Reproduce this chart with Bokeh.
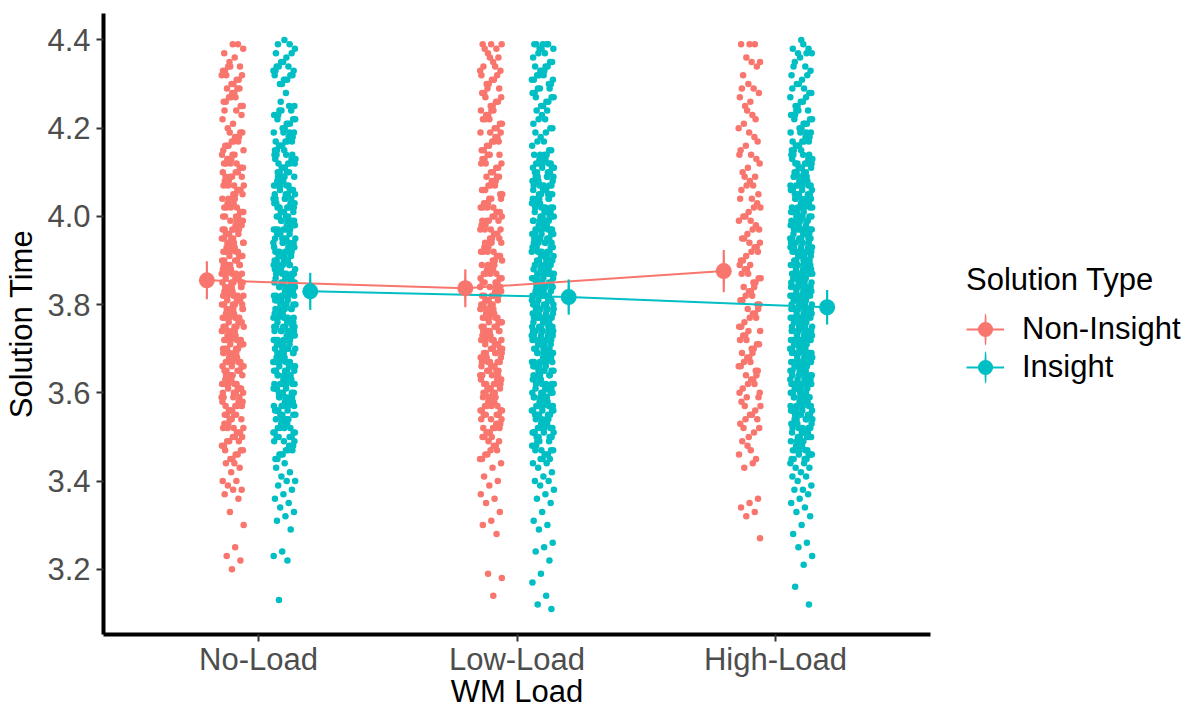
import numpy as np
from bokeh.plotting import figure
from bokeh.models import (Range1d, FixedTicker, PrintfTickFormatter, Legend,
                          LegendItem, ColumnDataSource)
from bokeh.embed import file_html
from bokeh.resources import INLINE

# ---------------- data ----------------
categories = ["No-Load", "Low-Load", "High-Load"]
solution_types = ["Non-Insight", "Insight"]
type_colors = ["#F8766D", "#00BFC4"]
y_ticks = [3.2, 3.4, 3.6, 3.8, 4.0, 4.2, 4.4]

non_insight_no_load = [
    4.39,
    4.37, 4.39, 4.35, 4.38, 4.36,
    4.32, 4.34, 4.30, 4.33, 4.31, 4.34, 4.32, 4.30, 4.33, 4.31, 4.34, 4.32,
    4.27, 4.29, 4.25, 4.28, 4.26, 4.29, 4.27, 4.25, 4.28, 4.26, 4.29, 4.27,
    4.22, 4.24, 4.20, 4.23, 4.21, 4.24,
    4.17, 4.19, 4.15, 4.18, 4.16, 4.19, 4.17, 4.15, 4.18, 4.16, 4.19, 4.17, 4.16, 4.18,
    4.12, 4.14, 4.10, 4.13, 4.11, 4.14, 4.12, 4.10, 4.13, 4.11, 4.14, 4.12, 4.11, 4.13, 4.10, 4.12,
    4.07, 4.09, 4.05, 4.08, 4.06, 4.09, 4.07, 4.05, 4.08, 4.06, 4.09, 4.07, 4.06, 4.08, 4.05, 4.07, 4.09, 4.06,
    4.02, 4.04, 4.00, 4.03, 4.01, 4.04, 4.02, 4.00, 4.03, 4.01, 4.04, 4.02, 4.01, 4.03, 4.00, 4.02, 4.04, 4.01, 4.03, 4.00,
    3.97, 3.99, 3.95, 3.98, 3.96, 3.99, 3.97, 3.95, 3.98, 3.96, 3.99, 3.97, 3.96, 3.98, 3.95, 3.97, 3.99, 3.96, 3.98, 3.95, 3.97, 3.96,
    3.92, 3.94, 3.90, 3.93, 3.91, 3.94, 3.92, 3.90, 3.93, 3.91, 3.94, 3.92, 3.91, 3.93, 3.90, 3.92, 3.94, 3.91, 3.93, 3.90, 3.92, 3.91, 3.94, 3.93,
    3.87, 3.89, 3.85, 3.88, 3.86, 3.89, 3.87, 3.85, 3.88, 3.86, 3.89, 3.87, 3.86, 3.88, 3.85, 3.87, 3.89, 3.86, 3.88, 3.85, 3.87, 3.86, 3.89, 3.88, 3.85, 3.87,
    3.82, 3.84, 3.80, 3.83, 3.81, 3.84, 3.82, 3.80, 3.83, 3.81, 3.84, 3.82, 3.81, 3.83, 3.80, 3.82, 3.84, 3.81, 3.83, 3.80, 3.82, 3.81, 3.84, 3.83, 3.80, 3.82,
    3.77, 3.79, 3.75, 3.78, 3.76, 3.79, 3.77, 3.75, 3.78, 3.76, 3.79, 3.77, 3.76, 3.78, 3.75, 3.77, 3.79, 3.76, 3.78, 3.75, 3.77, 3.76, 3.79, 3.78, 3.75, 3.77,
    3.72, 3.74, 3.70, 3.73, 3.71, 3.74, 3.72, 3.70, 3.73, 3.71, 3.74, 3.72, 3.71, 3.73, 3.70, 3.72, 3.74, 3.71, 3.73, 3.70, 3.72, 3.71, 3.74, 3.73, 3.70, 3.72,
    3.67, 3.69, 3.65, 3.68, 3.66, 3.69, 3.67, 3.65, 3.68, 3.66, 3.69, 3.67, 3.66, 3.68, 3.65, 3.67, 3.69, 3.66, 3.68, 3.65, 3.67, 3.66, 3.69, 3.68,
    3.62, 3.64, 3.60, 3.63, 3.61, 3.64, 3.62, 3.60, 3.63, 3.61, 3.64, 3.62, 3.61, 3.63, 3.60, 3.62, 3.64, 3.61, 3.63, 3.60, 3.62, 3.61,
    3.57, 3.59, 3.55, 3.58, 3.56, 3.59, 3.57, 3.55, 3.58, 3.56, 3.59, 3.57, 3.56, 3.58, 3.55, 3.57, 3.59, 3.56, 3.58, 3.55,
    3.52, 3.54, 3.50, 3.53, 3.51, 3.54, 3.52, 3.50, 3.53, 3.51, 3.54, 3.52, 3.51, 3.53, 3.50, 3.52,
    3.47, 3.49, 3.45, 3.48, 3.46, 3.49, 3.47, 3.45, 3.48, 3.46, 3.49, 3.47,
    3.44, 3.44, 3.43, 3.42, 3.40, 3.40, 3.39, 3.38, 3.38, 3.37, 3.36, 3.33, 3.30, 3.25, 3.23, 3.22, 3.20,
]

insight_no_load = [
    4.40,
    4.37, 4.39, 4.35, 4.38, 4.36, 4.39, 4.37, 4.35,
    4.32, 4.34, 4.30, 4.33, 4.31, 4.34, 4.32, 4.30, 4.33, 4.31, 4.34, 4.32, 4.31, 4.33,
    4.25, 4.26, 4.25, 4.28,
    4.22, 4.24, 4.20, 4.23, 4.21, 4.24, 4.22, 4.20, 4.23, 4.21, 4.24, 4.22, 4.21, 4.23,
    4.17, 4.19, 4.15, 4.18, 4.16, 4.19, 4.17, 4.15, 4.18, 4.16, 4.19, 4.17, 4.16, 4.18, 4.15, 4.17, 4.19, 4.16,
    4.12, 4.14, 4.10, 4.13, 4.11, 4.14, 4.12, 4.10, 4.13, 4.11, 4.14, 4.12, 4.11, 4.13, 4.10, 4.12, 4.14, 4.11, 4.13, 4.10,
    4.07, 4.09, 4.05, 4.08, 4.06, 4.09, 4.07, 4.05, 4.08, 4.06, 4.09, 4.07, 4.06, 4.08, 4.05, 4.07, 4.09, 4.06, 4.08, 4.05, 4.07, 4.06,
    4.02, 4.04, 4.00, 4.03, 4.01, 4.04, 4.02, 4.00, 4.03, 4.01, 4.04, 4.02, 4.01, 4.03, 4.00, 4.02, 4.04, 4.01, 4.03, 4.00, 4.02, 4.01, 4.04, 4.03,
    3.97, 3.99, 3.95, 3.98, 3.96, 3.99, 3.97, 3.95, 3.98, 3.96, 3.99, 3.97, 3.96, 3.98, 3.95, 3.97, 3.99, 3.96, 3.98, 3.95, 3.97, 3.96, 3.99, 3.98, 3.95, 3.97,
    3.92, 3.94, 3.90, 3.93, 3.91, 3.94, 3.92, 3.90, 3.93, 3.91, 3.94, 3.92, 3.91, 3.93, 3.90, 3.92, 3.94, 3.91, 3.93, 3.90, 3.92, 3.91, 3.94, 3.93, 3.90, 3.92, 3.93, 3.91,
    3.87, 3.89, 3.85, 3.88, 3.86, 3.89, 3.87, 3.85, 3.88, 3.86, 3.89, 3.87, 3.86, 3.88, 3.85, 3.87, 3.89, 3.86, 3.88, 3.85, 3.87, 3.86, 3.89, 3.88, 3.85, 3.87, 3.88, 3.86, 3.89, 3.85,
    3.82, 3.84, 3.80, 3.83, 3.81, 3.84, 3.82, 3.80, 3.83, 3.81, 3.84, 3.82, 3.81, 3.83, 3.80, 3.82, 3.84, 3.81, 3.83, 3.80, 3.82, 3.81, 3.84, 3.83, 3.80, 3.82, 3.83, 3.81, 3.84, 3.80,
    3.77, 3.79, 3.75, 3.78, 3.76, 3.79, 3.77, 3.75, 3.78, 3.76, 3.79, 3.77, 3.76, 3.78, 3.75, 3.77, 3.79, 3.76, 3.78, 3.75, 3.77, 3.76, 3.79, 3.78, 3.75, 3.77, 3.78, 3.76, 3.79, 3.75,
    3.72, 3.74, 3.70, 3.73, 3.71, 3.74, 3.72, 3.70, 3.73, 3.71, 3.74, 3.72, 3.71, 3.73, 3.70, 3.72, 3.74, 3.71, 3.73, 3.70, 3.72, 3.71, 3.74, 3.73, 3.70, 3.72, 3.73, 3.71, 3.74, 3.70,
    3.67, 3.69, 3.65, 3.68, 3.66, 3.69, 3.67, 3.65, 3.68, 3.66, 3.69, 3.67, 3.66, 3.68, 3.65, 3.67, 3.69, 3.66, 3.68, 3.65, 3.67, 3.66, 3.69, 3.68, 3.65, 3.67, 3.68, 3.66,
    3.62, 3.64, 3.60, 3.63, 3.61, 3.64, 3.62, 3.60, 3.63, 3.61, 3.64, 3.62, 3.61, 3.63, 3.60, 3.62, 3.64, 3.61, 3.63, 3.60, 3.62, 3.61, 3.64, 3.63, 3.60, 3.62,
    3.57, 3.59, 3.55, 3.58, 3.56, 3.59, 3.57, 3.55, 3.58, 3.56, 3.59, 3.57, 3.56, 3.58, 3.55, 3.57, 3.59, 3.56, 3.58, 3.55, 3.57, 3.56, 3.59, 3.58,
    3.52, 3.54, 3.50, 3.53, 3.51, 3.54, 3.52, 3.50, 3.53, 3.51, 3.54, 3.52, 3.51, 3.53, 3.50, 3.52, 3.54, 3.51, 3.53, 3.50,
    3.47, 3.49, 3.45, 3.48, 3.46, 3.49, 3.47, 3.45, 3.48, 3.46, 3.49, 3.47, 3.46, 3.48,
    3.44, 3.43, 3.42, 3.41, 3.40, 3.40, 3.39, 3.38, 3.37, 3.36, 3.35, 3.34, 3.33, 3.32, 3.31, 3.29, 3.24, 3.23, 3.22, 3.13,
]

non_insight_low_load = [
    4.39, 4.39, 4.38,
    4.37, 4.39, 4.35, 4.38, 4.36, 4.36,
    4.32, 4.34, 4.30, 4.33, 4.31, 4.34, 4.32, 4.30, 4.33, 4.31,
    4.27, 4.29, 4.25, 4.28, 4.26, 4.29, 4.27, 4.25, 4.28, 4.26,
    4.22, 4.24, 4.20, 4.23, 4.21, 4.24, 4.22, 4.20, 4.23, 4.21, 4.24, 4.22,
    4.17, 4.19, 4.15, 4.18, 4.16, 4.19, 4.17, 4.15, 4.18, 4.16, 4.19, 4.17,
    4.12, 4.14, 4.10, 4.13, 4.11, 4.14, 4.12, 4.10, 4.13, 4.11, 4.14, 4.12,
    4.07, 4.09, 4.05, 4.08, 4.06, 4.09, 4.07, 4.05, 4.08, 4.06, 4.09, 4.07, 4.06, 4.08,
    4.02, 4.04, 4.00, 4.03, 4.01, 4.04, 4.02, 4.00, 4.03, 4.01, 4.04, 4.02, 4.01, 4.03, 4.00, 4.02,
    3.97, 3.99, 3.95, 3.98, 3.96, 3.99, 3.97, 3.95, 3.98, 3.96, 3.99, 3.97, 3.96, 3.98, 3.95, 3.97, 3.99, 3.96,
    3.92, 3.94, 3.90, 3.93, 3.91, 3.94, 3.92, 3.90, 3.93, 3.91, 3.94, 3.92, 3.91, 3.93, 3.90, 3.92, 3.94, 3.91,
    3.87, 3.89, 3.85, 3.88, 3.86, 3.89, 3.87, 3.85, 3.88, 3.86, 3.89, 3.87, 3.86, 3.88, 3.85, 3.87, 3.89, 3.86, 3.88, 3.85,
    3.82, 3.84, 3.80, 3.83, 3.81, 3.84, 3.82, 3.80, 3.83, 3.81, 3.84, 3.82, 3.81, 3.83, 3.80, 3.82, 3.84, 3.81, 3.83, 3.80, 3.82, 3.81,
    3.77, 3.79, 3.75, 3.78, 3.76, 3.79, 3.77, 3.75, 3.78, 3.76, 3.79, 3.77, 3.76, 3.78, 3.75, 3.77, 3.79, 3.76, 3.78, 3.75, 3.77, 3.76, 3.79, 3.78,
    3.72, 3.74, 3.70, 3.73, 3.71, 3.74, 3.72, 3.70, 3.73, 3.71, 3.74, 3.72, 3.71, 3.73, 3.70, 3.72, 3.74, 3.71, 3.73, 3.70, 3.72, 3.71, 3.74, 3.73,
    3.67, 3.69, 3.65, 3.68, 3.66, 3.69, 3.67, 3.65, 3.68, 3.66, 3.69, 3.67, 3.66, 3.68, 3.65, 3.67, 3.69, 3.66, 3.68, 3.65, 3.67, 3.66, 3.69, 3.68,
    3.62, 3.64, 3.60, 3.63, 3.61, 3.64, 3.62, 3.60, 3.63, 3.61, 3.64, 3.62, 3.61, 3.63, 3.60, 3.62, 3.64, 3.61, 3.63, 3.60, 3.62, 3.61,
    3.57, 3.59, 3.55, 3.58, 3.56, 3.59, 3.57, 3.55, 3.58, 3.56, 3.59, 3.57, 3.56, 3.58, 3.55, 3.57, 3.59, 3.56, 3.58, 3.55,
    3.52, 3.54, 3.50, 3.53, 3.51, 3.54, 3.52, 3.50, 3.53, 3.51, 3.54, 3.52, 3.51, 3.53, 3.50, 3.52,
    3.47, 3.49, 3.45, 3.48, 3.46, 3.49, 3.47, 3.45, 3.48, 3.46,
    3.44, 3.43, 3.41, 3.40, 3.39, 3.37, 3.36, 3.35, 3.33, 3.31, 3.30, 3.28, 3.19, 3.18, 3.14,
]

insight_low_load = [
    4.39, 4.39, 4.39, 4.38, 4.38,
    4.37, 4.39, 4.35, 4.38, 4.36, 4.39, 4.37, 4.35,
    4.32, 4.34, 4.30, 4.33, 4.31, 4.34, 4.32, 4.30, 4.33, 4.31, 4.34, 4.32, 4.31, 4.33,
    4.27, 4.29, 4.25, 4.28, 4.26, 4.29, 4.27, 4.25, 4.28, 4.26, 4.29, 4.27,
    4.22, 4.24, 4.20, 4.23, 4.21, 4.24, 4.22, 4.20,
    4.17, 4.19, 4.15, 4.18, 4.16, 4.19, 4.17, 4.15,
    4.12, 4.14, 4.10, 4.13, 4.11, 4.14, 4.12, 4.10, 4.13, 4.11, 4.14, 4.12, 4.11, 4.13, 4.10, 4.12, 4.14, 4.11, 4.13, 4.10, 4.12, 4.11,
    4.07, 4.09, 4.05, 4.08, 4.06, 4.09, 4.07, 4.05, 4.08, 4.06, 4.09, 4.07, 4.06, 4.08, 4.05, 4.07, 4.09, 4.06, 4.08, 4.05, 4.07, 4.06, 4.09, 4.08, 4.05, 4.07,
    4.02, 4.04, 4.00, 4.03, 4.01, 4.04, 4.02, 4.00, 4.03, 4.01, 4.04, 4.02, 4.01, 4.03, 4.00, 4.02, 4.04, 4.01, 4.03, 4.00, 4.02, 4.01, 4.04, 4.03, 4.00, 4.02, 4.03, 4.01,
    3.97, 3.99, 3.95, 3.98, 3.96, 3.99, 3.97, 3.95, 3.98, 3.96, 3.99, 3.97, 3.96, 3.98, 3.95, 3.97, 3.99, 3.96, 3.98, 3.95, 3.97, 3.96, 3.99, 3.98, 3.95, 3.97, 3.98, 3.96, 3.99, 3.95,
    3.92, 3.94, 3.90, 3.93, 3.91, 3.94, 3.92, 3.90, 3.93, 3.91, 3.94, 3.92, 3.91, 3.93, 3.90, 3.92, 3.94, 3.91, 3.93, 3.90, 3.92, 3.91, 3.94, 3.93, 3.90, 3.92, 3.93, 3.91, 3.94, 3.90,
    3.87, 3.89, 3.85, 3.88, 3.86, 3.89, 3.87, 3.85, 3.88, 3.86, 3.89, 3.87, 3.86, 3.88, 3.85, 3.87, 3.89, 3.86, 3.88, 3.85, 3.87, 3.86, 3.89, 3.88, 3.85, 3.87, 3.88, 3.86, 3.89, 3.85, 3.88, 3.87,
    3.82, 3.84, 3.80, 3.83, 3.81, 3.84, 3.82, 3.80, 3.83, 3.81, 3.84, 3.82, 3.81, 3.83, 3.80, 3.82, 3.84, 3.81, 3.83, 3.80, 3.82, 3.81, 3.84, 3.83, 3.80, 3.82, 3.83, 3.81, 3.84, 3.80, 3.83, 3.82,
    3.77, 3.79, 3.75, 3.78, 3.76, 3.79, 3.77, 3.75, 3.78, 3.76, 3.79, 3.77, 3.76, 3.78, 3.75, 3.77, 3.79, 3.76, 3.78, 3.75, 3.77, 3.76, 3.79, 3.78, 3.75, 3.77, 3.78, 3.76, 3.79, 3.75, 3.78, 3.77,
    3.72, 3.74, 3.70, 3.73, 3.71, 3.74, 3.72, 3.70, 3.73, 3.71, 3.74, 3.72, 3.71, 3.73, 3.70, 3.72, 3.74, 3.71, 3.73, 3.70, 3.72, 3.71, 3.74, 3.73, 3.70, 3.72, 3.73, 3.71, 3.74, 3.70, 3.73, 3.72,
    3.67, 3.69, 3.65, 3.68, 3.66, 3.69, 3.67, 3.65, 3.68, 3.66, 3.69, 3.67, 3.66, 3.68, 3.65, 3.67, 3.69, 3.66, 3.68, 3.65, 3.67, 3.66, 3.69, 3.68, 3.65, 3.67, 3.68, 3.66, 3.69, 3.65,
    3.62, 3.64, 3.60, 3.63, 3.61, 3.64, 3.62, 3.60, 3.63, 3.61, 3.64, 3.62, 3.61, 3.63, 3.60, 3.62, 3.64, 3.61, 3.63, 3.60, 3.62, 3.61, 3.64, 3.63, 3.60, 3.62, 3.63, 3.61,
    3.57, 3.59, 3.55, 3.58, 3.56, 3.59, 3.57, 3.55, 3.58, 3.56, 3.59, 3.57, 3.56, 3.58, 3.55, 3.57, 3.59, 3.56, 3.58, 3.55, 3.57, 3.56, 3.59, 3.58, 3.55, 3.57,
    3.52, 3.54, 3.50, 3.53, 3.51, 3.54, 3.52, 3.50, 3.53, 3.51, 3.54, 3.52, 3.51, 3.53, 3.50, 3.52, 3.54, 3.51, 3.53, 3.50, 3.52, 3.51,
    3.47, 3.49, 3.45, 3.48, 3.46, 3.49, 3.47, 3.45, 3.48, 3.46, 3.49, 3.47, 3.46, 3.48, 3.45, 3.47,
    3.44, 3.44, 3.43, 3.42, 3.41, 3.40, 3.40, 3.39, 3.38, 3.37, 3.36, 3.35, 3.33, 3.31, 3.30, 3.29, 3.26, 3.25, 3.24, 3.22, 3.19, 3.17, 3.14, 3.12, 3.11,
]

non_insight_high_load = [
    4.39, 4.39, 4.39,
    4.36, 4.35, 4.35,
    4.32, 4.34, 4.30,
    4.27, 4.29, 4.25, 4.28, 4.26, 4.29,
    4.22, 4.24, 4.20, 4.23, 4.21,
    4.17, 4.19, 4.15, 4.18, 4.16,
    4.12, 4.14, 4.10, 4.13, 4.11, 4.14,
    4.07, 4.09, 4.05, 4.08, 4.06, 4.09, 4.07,
    4.02, 4.04, 4.00, 4.03, 4.01, 4.04, 4.02, 4.00,
    3.97, 3.99, 3.95, 3.98, 3.96, 3.99, 3.97, 3.95,
    3.92, 3.94, 3.90, 3.93, 3.91, 3.94, 3.92, 3.90, 3.93,
    3.87, 3.89, 3.85, 3.88, 3.86, 3.89, 3.87, 3.85, 3.88, 3.86,
    3.82, 3.84, 3.80, 3.83, 3.81, 3.84, 3.82, 3.80, 3.83, 3.81,
    3.77, 3.79, 3.75, 3.78, 3.76, 3.79, 3.77, 3.75, 3.78,
    3.72, 3.74, 3.70, 3.73, 3.71, 3.74, 3.72, 3.70, 3.73, 3.71,
    3.67, 3.69, 3.65, 3.68, 3.66, 3.69, 3.67, 3.65, 3.68, 3.66,
    3.62, 3.64, 3.60, 3.63, 3.61, 3.64, 3.62, 3.60, 3.63,
    3.57, 3.59, 3.55, 3.58, 3.56, 3.59, 3.57, 3.55,
    3.52, 3.54, 3.50, 3.53, 3.51, 3.54, 3.52,
    3.47, 3.49, 3.45, 3.48, 3.46,
    3.44, 3.43, 3.36, 3.35, 3.34, 3.33, 3.32, 3.27,
]

insight_high_load = [
    4.40, 4.38, 4.37, 4.37,
    4.37, 4.39, 4.35, 4.38, 4.36,
    4.32, 4.34, 4.30, 4.33, 4.31, 4.34, 4.32, 4.30,
    4.27, 4.29, 4.25, 4.28, 4.26, 4.29, 4.27, 4.25, 4.28, 4.26,
    4.22, 4.24, 4.20, 4.23, 4.21, 4.24, 4.22, 4.20, 4.23, 4.21, 4.24, 4.22, 4.21, 4.23,
    4.17, 4.19, 4.15, 4.18, 4.16, 4.19, 4.17, 4.15, 4.18, 4.16, 4.19, 4.17, 4.16, 4.18, 4.15, 4.17, 4.19, 4.16,
    4.12, 4.14, 4.10, 4.13, 4.11, 4.14, 4.12, 4.10, 4.13, 4.11, 4.14, 4.12, 4.11, 4.13, 4.10, 4.12, 4.14, 4.11, 4.13, 4.10, 4.12, 4.11,
    4.07, 4.09, 4.05, 4.08, 4.06, 4.09, 4.07, 4.05, 4.08, 4.06, 4.09, 4.07, 4.06, 4.08, 4.05, 4.07, 4.09, 4.06, 4.08, 4.05, 4.07, 4.06, 4.09, 4.08, 4.05, 4.07,
    4.02, 4.04, 4.00, 4.03, 4.01, 4.04, 4.02, 4.00, 4.03, 4.01, 4.04, 4.02, 4.01, 4.03, 4.00, 4.02, 4.04, 4.01, 4.03, 4.00, 4.02, 4.01, 4.04, 4.03, 4.00, 4.02, 4.03, 4.01, 4.04, 4.00,
    3.97, 3.99, 3.95, 3.98, 3.96, 3.99, 3.97, 3.95, 3.98, 3.96, 3.99, 3.97, 3.96, 3.98, 3.95, 3.97, 3.99, 3.96, 3.98, 3.95, 3.97, 3.96, 3.99, 3.98, 3.95, 3.97, 3.98, 3.96, 3.99, 3.95, 3.98, 3.97,
    3.92, 3.94, 3.90, 3.93, 3.91, 3.94, 3.92, 3.90, 3.93, 3.91, 3.94, 3.92, 3.91, 3.93, 3.90, 3.92, 3.94, 3.91, 3.93, 3.90, 3.92, 3.91, 3.94, 3.93, 3.90, 3.92, 3.93, 3.91, 3.94, 3.90, 3.93, 3.92,
    3.87, 3.89, 3.85, 3.88, 3.86, 3.89, 3.87, 3.85, 3.88, 3.86, 3.89, 3.87, 3.86, 3.88, 3.85, 3.87, 3.89, 3.86, 3.88, 3.85, 3.87, 3.86, 3.89, 3.88, 3.85, 3.87, 3.88, 3.86, 3.89, 3.85, 3.88, 3.87, 3.86, 3.89,
    3.82, 3.84, 3.80, 3.83, 3.81, 3.84, 3.82, 3.80, 3.83, 3.81, 3.84, 3.82, 3.81, 3.83, 3.80, 3.82, 3.84, 3.81, 3.83, 3.80, 3.82, 3.81, 3.84, 3.83, 3.80, 3.82, 3.83, 3.81, 3.84, 3.80, 3.83, 3.82, 3.81, 3.84,
    3.77, 3.79, 3.75, 3.78, 3.76, 3.79, 3.77, 3.75, 3.78, 3.76, 3.79, 3.77, 3.76, 3.78, 3.75, 3.77, 3.79, 3.76, 3.78, 3.75, 3.77, 3.76, 3.79, 3.78, 3.75, 3.77, 3.78, 3.76, 3.79, 3.75, 3.78, 3.77, 3.76, 3.79,
    3.72, 3.74, 3.70, 3.73, 3.71, 3.74, 3.72, 3.70, 3.73, 3.71, 3.74, 3.72, 3.71, 3.73, 3.70, 3.72, 3.74, 3.71, 3.73, 3.70, 3.72, 3.71, 3.74, 3.73, 3.70, 3.72, 3.73, 3.71, 3.74, 3.70, 3.73, 3.72, 3.71, 3.74,
    3.67, 3.69, 3.65, 3.68, 3.66, 3.69, 3.67, 3.65, 3.68, 3.66, 3.69, 3.67, 3.66, 3.68, 3.65, 3.67, 3.69, 3.66, 3.68, 3.65, 3.67, 3.66, 3.69, 3.68, 3.65, 3.67, 3.68, 3.66, 3.69, 3.65, 3.68, 3.67, 3.66, 3.69,
    3.62, 3.64, 3.60, 3.63, 3.61, 3.64, 3.62, 3.60, 3.63, 3.61, 3.64, 3.62, 3.61, 3.63, 3.60, 3.62, 3.64, 3.61, 3.63, 3.60, 3.62, 3.61, 3.64, 3.63, 3.60, 3.62, 3.63, 3.61, 3.64, 3.60, 3.63, 3.62,
    3.57, 3.59, 3.55, 3.58, 3.56, 3.59, 3.57, 3.55, 3.58, 3.56, 3.59, 3.57, 3.56, 3.58, 3.55, 3.57, 3.59, 3.56, 3.58, 3.55, 3.57, 3.56, 3.59, 3.58, 3.55, 3.57, 3.58, 3.56, 3.59, 3.55,
    3.52, 3.54, 3.50, 3.53, 3.51, 3.54, 3.52, 3.50, 3.53, 3.51, 3.54, 3.52, 3.51, 3.53, 3.50, 3.52, 3.54, 3.51, 3.53, 3.50, 3.52, 3.51, 3.54, 3.53, 3.50, 3.52, 3.53, 3.51,
    3.47, 3.49, 3.45, 3.48, 3.46, 3.49, 3.47, 3.45, 3.48, 3.46, 3.49, 3.47, 3.46, 3.48, 3.45, 3.47, 3.49, 3.46, 3.48, 3.45, 3.47, 3.46,
    3.44, 3.44, 3.43, 3.43, 3.42, 3.41, 3.41, 3.40, 3.39, 3.38, 3.38, 3.37, 3.36, 3.35, 3.34, 3.33, 3.32, 3.30, 3.28, 3.26, 3.25, 3.23, 3.21, 3.16, 3.12,
]

# summary statistics (mean +/- error) per WM load
mean_non_insight = [3.855, 3.837, 3.876]
err_non_insight = [0.043, 0.043, 0.048]
mean_insight = [3.830, 3.817, 3.794]
err_insight = [0.042, 0.040, 0.039]

raw_by_type = {
    "Non-Insight": [non_insight_no_load, non_insight_low_load, non_insight_high_load],
    "Insight": [insight_no_load, insight_low_load, insight_high_load],
}
summary_by_type = {
    "Non-Insight": (mean_non_insight, err_non_insight),
    "Insight": (mean_insight, err_insight),
}

# ---------------- layout constants ----------------
FONT = "Liberation Sans"
POINT_DODGE = 0.10      # offset of the jittered strips from the category centre
MEAN_DODGE = 0.20       # offset of the mean +/- error from the category centre
JITTER_HALF = 0.043     # half width of the horizontal jitter
GOLDEN = 0.6180339887
dodge_sign = {"Non-Insight": -1.0, "Insight": 1.0}

p = figure(
    frame_width=827, frame_height=621,
    x_range=Range1d(0.4, 3.6), y_range=Range1d(3.052, 4.460),
    output_backend="svg", toolbar_location=None,
    min_border_left=103, min_border_right=258, min_border_top=13, min_border_bottom=77,
    background_fill_color="white", border_fill_color="white",
)
p.outline_line_color = None
p.xgrid.visible = False
p.ygrid.visible = False

# jittered raw observations
for t_idx, t in enumerate(solution_types):
    xs, ys = [], []
    for c_idx, vals in enumerate(raw_by_type[t]):
        centre = c_idx + 1 + dodge_sign[t] * POINT_DODGE
        for i, v in enumerate(vals):
            frac = (i * GOLDEN + 0.5) % 1.0
            xs.append(centre + (2.0 * frac - 1.0) * JITTER_HALF)
            ys.append(v)
    p.scatter(xs, ys, size=6.5, fill_color=type_colors[t_idx], line_color=None)

# mean lines
sources = {}
line_renderers = {}
for t_idx, t in enumerate(solution_types):
    means, errs = summary_by_type[t]
    means = np.array(means)
    errs = np.array(errs)
    sx = np.arange(1, len(categories) + 1) + dodge_sign[t] * MEAN_DODGE
    sources[t] = ColumnDataSource(dict(x=sx, y=means, lo=means - errs, hi=means + errs))
    line_renderers[t] = p.line("x", "y", source=sources[t], line_color=type_colors[t_idx], line_width=2)

# error bars + means
legend_items = []
for t_idx, t in enumerate(solution_types):
    c = type_colors[t_idx]
    src = sources[t]
    # thin vertical ellipse: hidden under the error bar, supplies the vertical stroke of the legend key
    key_v = p.ellipse("x", "y", width=0.5, height=30, width_units="screen", height_units="screen",
                      source=src, fill_color=c, line_color=c, line_width=1.5)
    p.segment("x", "lo", "x", "hi", source=src, line_color=c, line_width=2.2)
    pts = p.scatter("x", "y", source=src, size=16, fill_color=c, line_color=None)
    legend_items.append(LegendItem(label=t, renderers=[line_renderers[t], key_v, pts]))

legend = Legend(
    items=legend_items, title="Solution Type", location="center_left",
    glyph_width=38, glyph_height=38, label_height=38, label_standoff=18,
    spacing=0, padding=0, margin=36, title_standoff=12,
    border_line_color=None, background_fill_color=None,
    label_text_font=FONT, label_text_font_size="31px", label_text_color="black",
    title_text_font=FONT, title_text_font_size="31px", title_text_font_style="normal",
    title_text_color="black",
)
p.add_layout(legend, "right")

# axes
xax = p.xaxis[0]
yax = p.yaxis[0]
xax.ticker = FixedTicker(ticks=list(range(1, len(categories) + 1)))
xax.major_label_overrides = {i + 1: c for i, c in enumerate(categories)}
yax.ticker = FixedTicker(ticks=y_ticks)
yax.formatter = PrintfTickFormatter(format="%.1f")
xax.axis_label = "WM Load"
yax.axis_label = "Solution Time"
for ax in (xax, yax):
    ax.axis_line_color = "black"
    ax.axis_line_width = 4
    ax.major_tick_line_color = "#333333"
    ax.major_tick_line_width = 2
    ax.major_tick_in = 0
    ax.major_tick_out = 7
    ax.minor_tick_line_color = None
    ax.major_label_text_font = FONT
    ax.major_label_text_font_size = "31px"
    ax.major_label_text_color = "#4D4D4D"
    ax.axis_label_text_font = FONT
    ax.axis_label_text_font_size = "31px"
    ax.axis_label_text_font_style = "normal"
    ax.axis_label_text_color = "black"
xax.major_label_standoff = 0
xax.axis_label_standoff = -6
yax.major_label_standoff = 6
yax.axis_label_standoff = 5

open("out.html", "w").write(file_html(p, INLINE, "Solution Time by WM Load"))
